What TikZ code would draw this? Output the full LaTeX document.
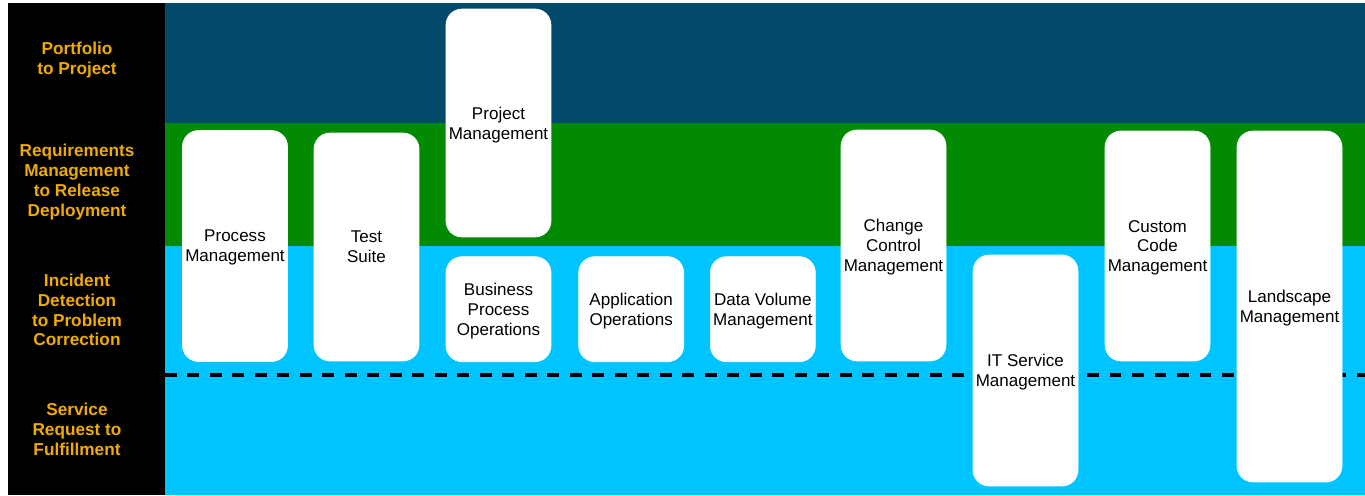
\documentclass[tikz,border=0pt]{standalone}
\usepackage{fontspec}
\setmainfont{Liberation Sans}
\usetikzlibrary{positioning}

\definecolor{portblue}{RGB}{2,74,108}
\definecolor{reqgreen}{RGB}{2,138,2}
\definecolor{incyan}{RGB}{0,196,255}
\definecolor{labgold}{RGB}{240,171,0}

\begin{document}
\begin{tikzpicture}[x=0.02cm, y=-0.02cm,
    svc/.style={fill=white, draw=white, rounded corners=0.32cm, minimum width=2.1cm, align=center, inner sep=0pt, text depth=0pt, font=\fontsize{9.7}{11.3}\selectfont},
    lane/.style={text=labgold, align=center, font=\bfseries\fontsize{9.8}{11.3}\selectfont}]
            \useasboundingbox (0,0) rectangle (1365,495);

            % swim lanes
            \fill[black] (8,3) rectangle (165,495);
            \fill[portblue] (165,3) rectangle (1365,123);
            \fill[reqgreen] (165,123) rectangle (1365,246);
            \fill[incyan] (165,246) rectangle (1365,495);
            \draw[black, line width=1.9pt, dash pattern=on 6.8pt off 6pt] (165,375) -- (1365,375);

            \node[lane] (p2p) at (77,60) {Portfolio\\to Project};
            \node[lane] (r2d) at (77,182) {Requirements\\Management\\to Release\\Deployment};
            \node[lane] (d2c) at (77,310) {Incident\\Detection\\to Problem\\Correction};
            \node[lane] (r2f) at (77,429) {Service\\Request to\\Fulfillment};

            % tool boxes
            \node[svc, minimum height=4.62cm] (proc) at (235,246) {Process\\Management};
            \node[svc, minimum height=4.56cm] (test) at (366.5,247) {Test\\Suite};
            \node[svc, minimum height=4.56cm] (proj) at (498.5,123) {Project\\Management};
            \node[svc, minimum height=2.1cm, below=0.38cm of proj] (bpo) {Business\\Process\\Operations};
            \node[svc, minimum height=2.1cm, right=0.54cm of bpo] (appops) {Application\\Operations};
            \node[svc, minimum height=2.1cm, right=0.52cm of appops] (dvm) {Data Volume\\Management};
            \node[svc, minimum height=4.62cm] (chg) at (893.5,245.5) {Change\\Control\\Management};
            \node[svc, minimum height=4.62cm] (itsm) at (1025.5,370.5) {IT Service\\Management};
            \node[svc, minimum height=4.6cm] (ccm) at (1157.5,246) {Custom\\Code\\Management};
            \node[svc, minimum height=7.02cm] (land) at (1289.5,306.5) {Landscape\\Management};
        \end{tikzpicture}
\end{document}
